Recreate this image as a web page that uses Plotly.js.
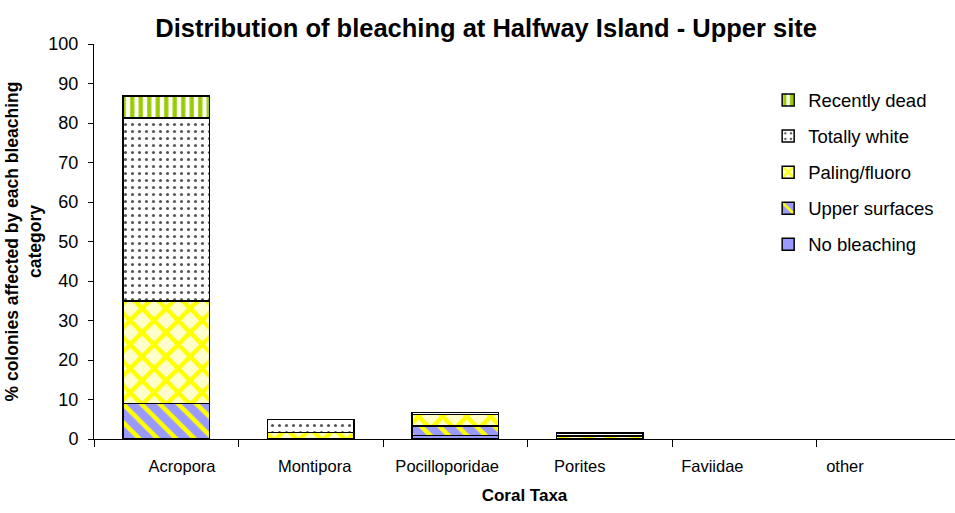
<!DOCTYPE html>
<html>
<head>
<meta charset="utf-8">
<script src="https://cdn.plot.ly/plotly-3.0.1.min.js"></script>
<style>
  html, body { margin: 0; padding: 0; background: #fff; }
  #plot { width: 955px; height: 513px; }
</style>
</head>
<body>
<div id="plot"></div>
<script>
const taxa = ["Acropora", "Montipora", "Pocilloporidae", "Porites", "Faviidae", "other"];

const noBleaching   = [0,    0,   0.9, 0,   0, 0];
const upperSurfaces = [9.0,  0,   2.4, 0,   0, 0];
const palingFluoro  = [26.0, 1.7, 2.9, 0.7, 0, 0];
const totallyWhite  = [46.3, 3.3, 0.5, 0.8, 0, 0];
const recentlyDead  = [5.5,  0,   0,   0,   0, 0];

function bar(name, values, rank, color, pattern) {
  return {
    type: "bar",
    name: name,
    x: taxa,
    // empty segments are skipped so no outline is drawn on the axis
    y: values.map(v => v || null),
    legendgroup: name,
    legendrank: rank,
    marker: {
      color: color,
      line: { color: "#000", width: 1.5 },
      pattern: pattern
    },
    hoverinfo: "name+y"
  };
}

const traces = [
  bar("No bleaching", noBleaching, 5, "#9999FF", { shape: "" }),
  bar("Upper surfaces", upperSurfaces, 4, "#9999FF",
      { shape: "\\", fgcolor: "#FFFF00", bgcolor: "#9999FF", size: 13, solidity: 0.35, fillmode: "replace" }),
  bar("Paling/fluoro", palingFluoro, 3, "#FFFFCC",
      { shape: "x", fgcolor: "#FFFF00", bgcolor: "#FFFFCC", size: 17, solidity: 0.45, fillmode: "replace" }),
  bar("Totally white", totallyWhite, 2, "#FFFFFF",
      { shape: ".", fgcolor: "#555555", bgcolor: "#FFFFFF", size: 7, solidity: 0.15, fillmode: "replace" }),
  bar("Recently dead", recentlyDead, 1, "#FFFFFF",
      { shape: "|", fgcolor: "#99CC00", bgcolor: "#FFFFFF", size: 8.5, solidity: 0.5, fillmode: "replace" }),
  // carrier for the category labels on the label axis
  {
    type: "scatter",
    mode: "markers",
    x: taxa,
    y: noBleaching,
    xaxis: "x2",
    marker: { opacity: 0 },
    showlegend: false,
    hoverinfo: "skip"
  }
];

const font = "Liberation Sans, Arial, sans-serif";

Plotly.newPlot("plot", traces, {
  width: 955,
  height: 513,
  paper_bgcolor: "#fff",
  plot_bgcolor: "#fff",
  font: { family: font, size: 16, color: "#000" },
  margin: { l: 94, r: 0, t: 44, b: 74 },
  barmode: "stack",
  bargap: 0.4,
  title: {
    text: "<b>Distribution of bleaching at Halfway Island - Upper site</b>",
    font: { size: 25.5, family: font },
    x: 0.509, xanchor: "center", y: 0.945, yanchor: "middle"
  },
  xaxis: {
    type: "category",
    range: [-0.5, 5.458],
    showticklabels: false,
    ticks: "outside",
    tickson: "boundaries",
    ticklen: 7,
    tickcolor: "#000",
    showline: true,
    linecolor: "#000",
    linewidth: 1,
    showgrid: false,
    zeroline: false
  },
  xaxis2: {
    type: "category",
    overlaying: "x",
    anchor: "y",
    side: "bottom",
    range: [-0.664, 5.83],
    ticks: "",
    showline: false,
    showgrid: false,
    zeroline: false,
    tickfont: { size: 16.5 },
    ticklabelstandoff: 15,
    title: { text: "<b>Coral Taxa</b>", font: { size: 17 }, standoff: 15 }
  },
  yaxis: {
    range: [0, 100],
    dtick: 10,
    ticks: "outside",
    ticklen: 5,
    tickcolor: "#000",
    showline: true,
    linecolor: "#000",
    linewidth: 1,
    showgrid: false,
    zeroline: false,
    tickfont: { size: 18 },
    ticklabelstandoff: 6,
    title: {
      text: "<b>% colonies affected by each bleaching<br>category</b>",
      font: { size: 17.5 },
      standoff: 2
    }
  },
  legend: {
    x: 0.783, y: 0.905,
    xanchor: "left", yanchor: "top",
    traceorder: "grouped",
    tracegroupgap: 9,
    font: { size: 18.5 },
    bgcolor: "rgba(0,0,0,0)"
  },
  showlegend: true
}, { displayModeBar: false, staticPlot: true });
</script>
</body>
</html>
